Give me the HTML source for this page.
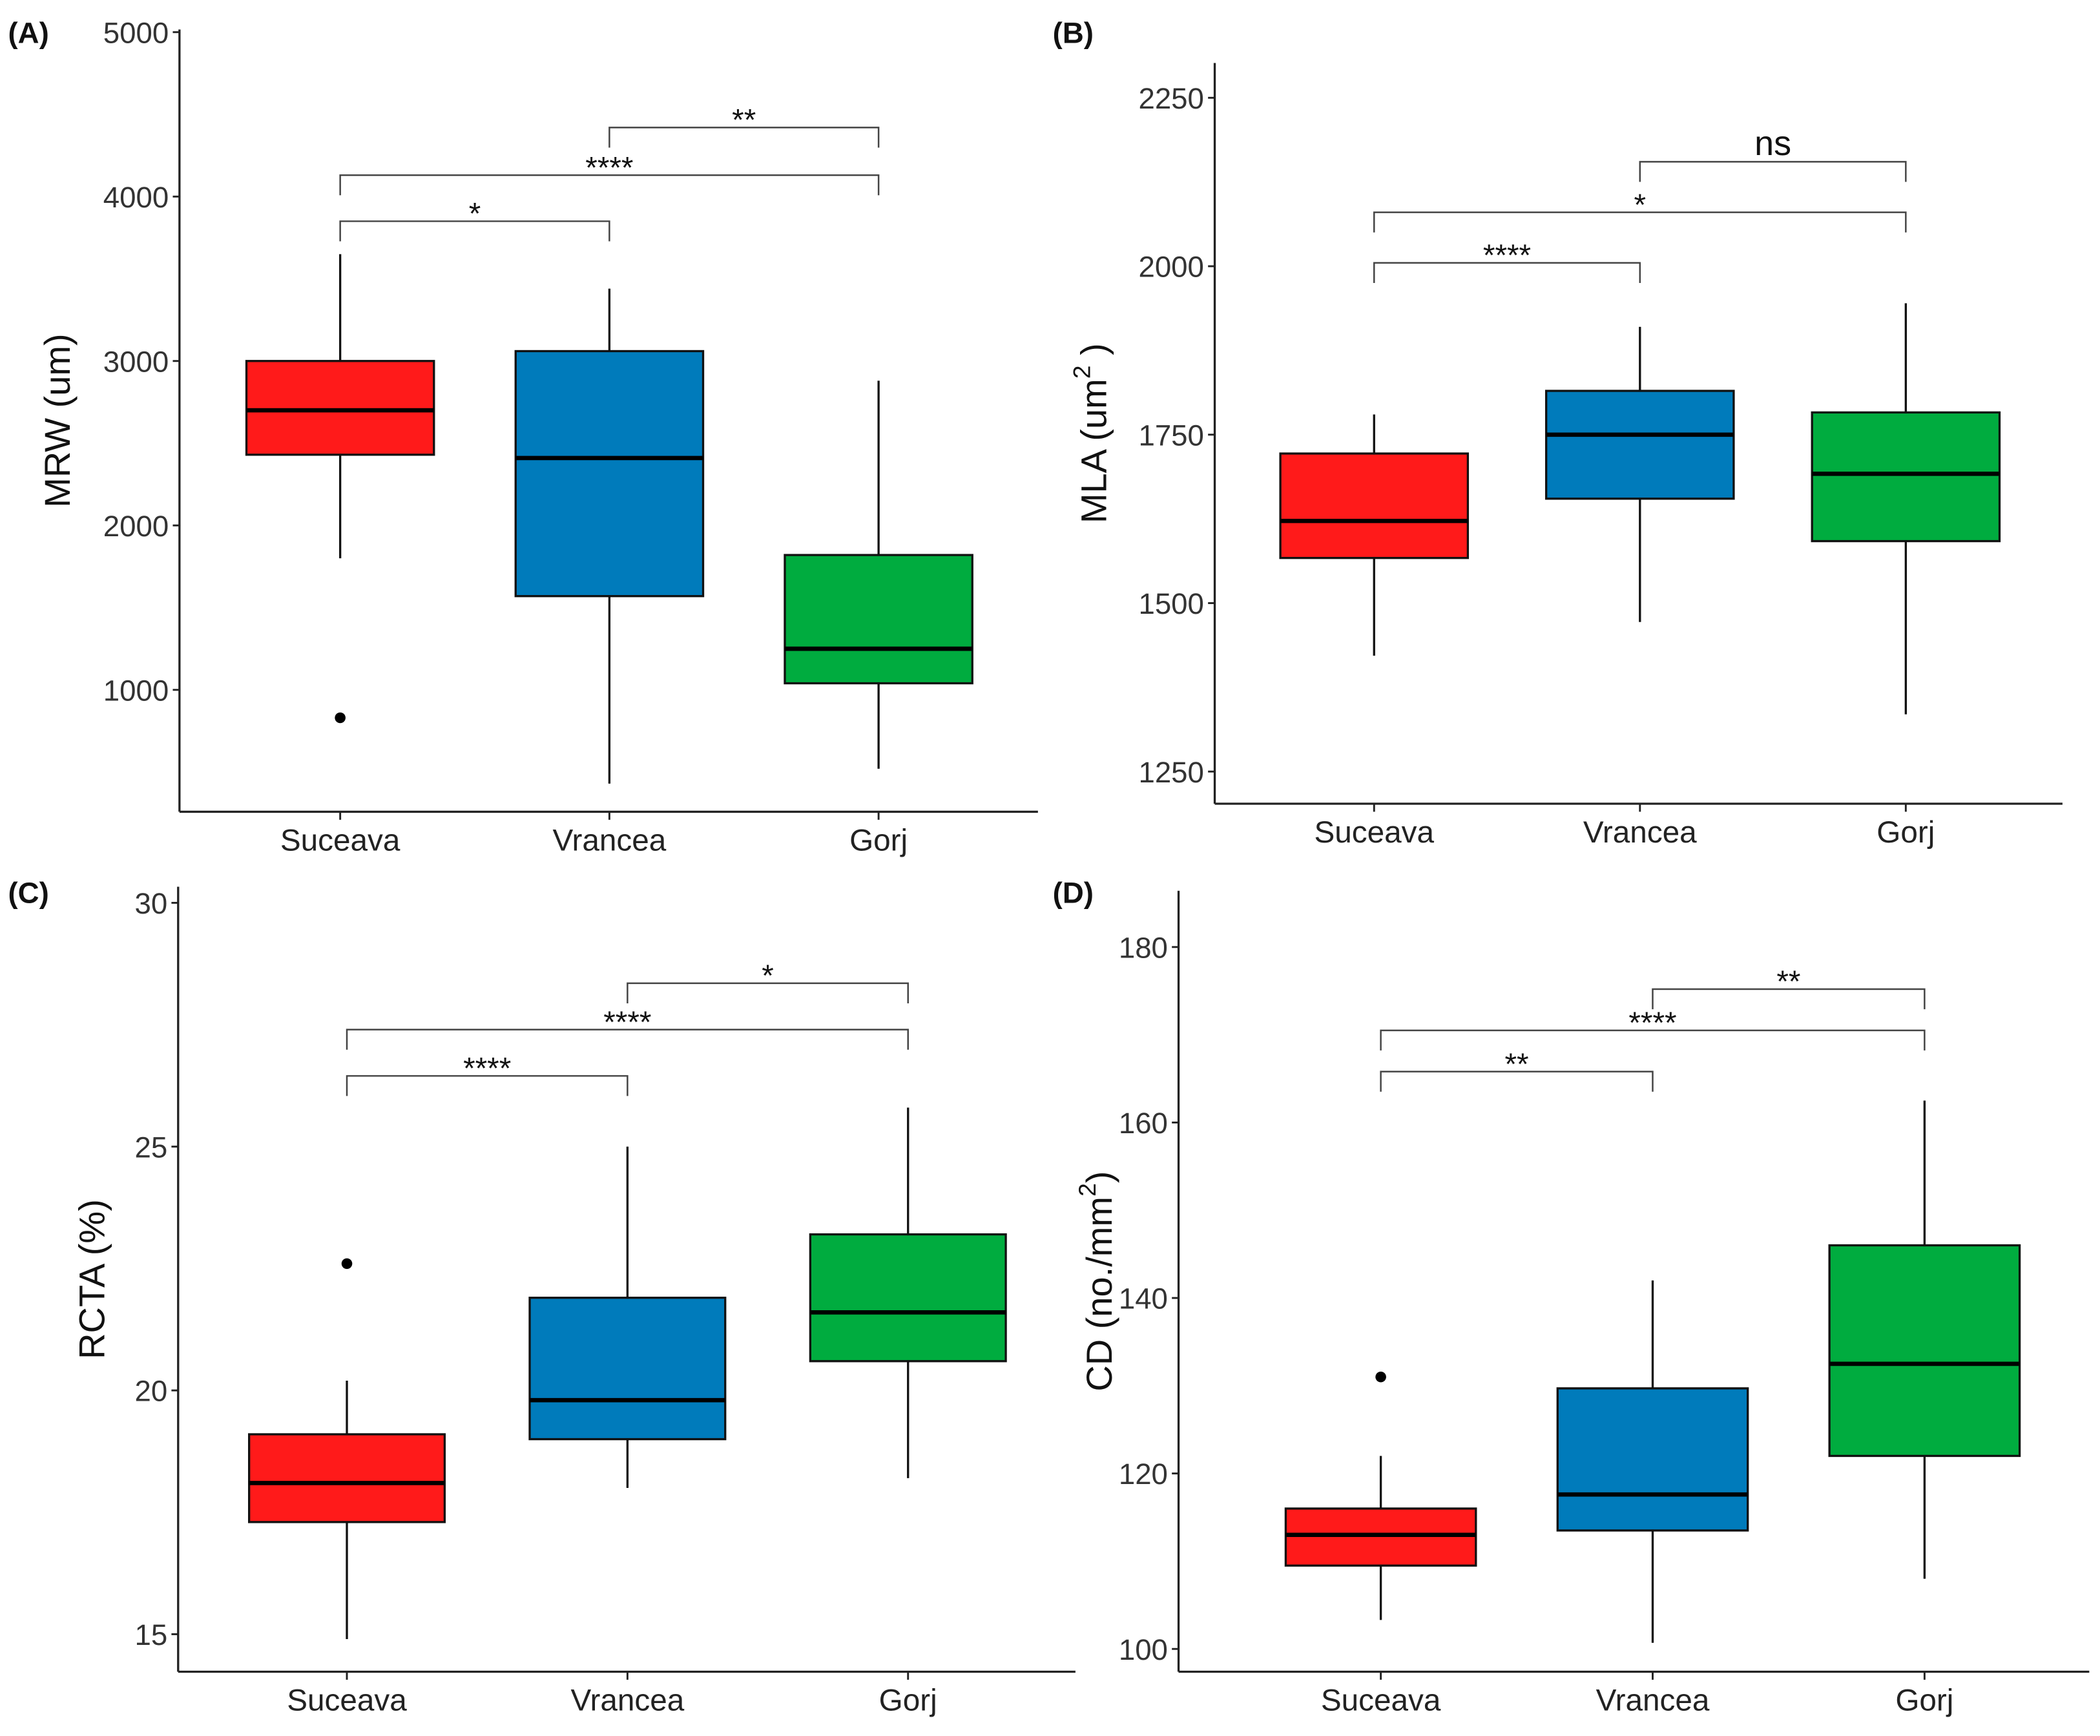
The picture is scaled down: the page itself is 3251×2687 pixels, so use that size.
<!DOCTYPE html>
<html><head><meta charset="utf-8">
<style>
html,body{margin:0;padding:0;background:#fff;}
svg{display:block;font-family:"Liberation Sans",sans-serif;}
</style></head>
<body>
<svg id="fig" width="3251" height="2687" viewBox="0 0 1568 1296" xmlns="http://www.w3.org/2000/svg">
<rect width="1568" height="1296" fill="#fff"/>
</svg>
<script>
const categories = ["Suceava","Vrancea","Gorj"];
const colors = ["#ff1a1a","#007bbb","#00ac3f"];

// Panel A: MRW
const aLow = [1800, 430, 520];
const aQ1 = [2430, 1570, 1040];
const aMed = [2700, 2410, 1250];
const aQ3 = [3000, 3060, 1820];
const aHigh = [3650, 3440, 2880];
const aOutliers = [[0, 830]];
const aTicks = [1000, 2000, 3000, 4000, 5000];
const aBrackets = [[0,1,3850,"*"],[0,2,4130,"****"],[1,2,4420,"**"]];

// Panel B: MLA
const bLow = [1422, 1472, 1335];
const bQ1 = [1567, 1655, 1592];
const bMed = [1622, 1750, 1692];
const bQ3 = [1722, 1815, 1783];
const bHigh = [1780, 1910, 1945];
const bOutliers = [];
const bTicks = [1250, 1500, 1750, 2000, 2250];
const bBrackets = [[0,1,2005,"****"],[0,2,2080,"*"],[1,2,2155,"ns"]];

// Panel C: RCTA
const cLow = [14.9, 18.0, 18.2];
const cQ1 = [17.3, 19.0, 20.6];
const cMed = [18.1, 19.8, 21.6];
const cQ3 = [19.1, 21.9, 23.2];
const cHigh = [20.2, 25.0, 25.8];
const cOutliers = [[0, 22.6]];
const cTicks = [15, 20, 25, 30];
const cBrackets = [[0,1,26.45,"****"],[0,2,27.4,"****"],[1,2,28.35,"*"]];

// Panel D: CD
const dLow = [103.3, 100.7, 108];
const dQ1 = [109.5, 113.5, 122];
const dMed = [113, 117.6, 132.5];
const dQ3 = [116, 129.7, 146];
const dHigh = [122, 142, 162.5];
const dOutliers = [[0, 131]];
const dTicks = [100, 120, 140, 160, 180];
const dBrackets = [[0,1,165.8,"**"],[0,2,170.5,"****"],[1,2,175.2,"**"]];

const NS = "http://www.w3.org/2000/svg";
const svg = document.getElementById("fig");
function mk(tag, attrs, parent, text){
  const e = document.createElementNS(NS, tag);
  for (const k in attrs) e.setAttribute(k, attrs[k]);
  if (text !== undefined) e.textContent = text;
  (parent || svg).appendChild(e);
  return e;
}

function panel(cfg){
  const g = mk("g", {});
  
  
  const y = v => cfg.py0 + (v - cfg.v0) * (cfg.py1 - cfg.py0) / (cfg.v1 - cfg.v0);
  const x = i => cfg.xs[0] + i * (cfg.xs[1] - cfg.xs[0]);
  const lab = mk("text", {x: cfg.labX, y: cfg.labY, "font-size": 22, "font-weight": "bold", fill: "#111"}, g, cfg.label);
  
  
  const ya = mk("line", {x1: cfg.ax, y1: cfg.top, x2: cfg.ax, y2: cfg.bottom, stroke: "#222", "stroke-width": 1.6}, g);
  
  
  const xa = mk("line", {x1: cfg.ax, y1: cfg.bottom, x2: cfg.right, y2: cfg.bottom, stroke: "#222", "stroke-width": 1.6}, g);
  
  
  cfg.ticks.forEach(t => {
    const yy = y(t);
    mk("line", {x1: cfg.ax - 5, y1: yy, x2: cfg.ax, y2: yy, stroke: "#222", "stroke-width": 1.4}, g);
    const tl = mk("text", {x: cfg.ax - 8, y: yy + 8, "font-size": 22, "text-anchor": "end", fill: "#333"}, g, String(t));
    
    
  });
  categories.forEach((c, i) => {
    const xx = x(i);
    mk("line", {x1: xx, y1: cfg.bottom, x2: xx, y2: cfg.bottom + 6, stroke: "#222", "stroke-width": 1.4}, g);
    const cl = mk("text", {x: xx, y: cfg.bottom + 29, "font-size": 23, "text-anchor": "middle", fill: "#222"}, g, c);
    
    
  });
  const tx = cfg.titleX, ty = (cfg.top + cfg.bottom) / 2;
  const tt = mk("text", {x: tx, y: ty, "font-size": 27, "text-anchor": "middle", fill: "#111", transform: `rotate(-90 ${tx} ${ty})`}, g);
  
  
  tt.innerHTML = cfg.title;
  categories.forEach((c, i) => {
    const xx = x(i), hw = cfg.hw;
    const bg = mk("g", {}, g);
    
    
    mk("line", {x1: xx, y1: y(cfg.high[i]), x2: xx, y2: y(cfg.q3[i]), stroke: "#111", "stroke-width": 1.6}, bg);
    mk("line", {x1: xx, y1: y(cfg.q1[i]), x2: xx, y2: y(cfg.low[i]), stroke: "#111", "stroke-width": 1.6}, bg);
    mk("rect", {x: xx - hw, y: y(cfg.q3[i]), width: 2 * hw, height: y(cfg.q1[i]) - y(cfg.q3[i]), fill: colors[i], stroke: "#111", "stroke-width": 1.6}, bg);
    mk("line", {x1: xx - hw, y1: y(cfg.med[i]), x2: xx + hw, y2: y(cfg.med[i]), stroke: "#000", "stroke-width": 3.2}, bg);
  });
  cfg.outliers.forEach(o => {
    const p = mk("circle", {cx: x(o[0]), cy: y(o[1]), r: 4, fill: "#000"}, g);
    
    
  });
  cfg.brackets.forEach(b => {
    const yy = y(b[2]), x1 = x(b[0]), x2 = x(b[1]);
    const bk = mk("path", {d: `M${x1},${yy + 15} V${yy} H${x2} V${yy + 15}`, fill: "none", stroke: "#444", "stroke-width": 1.2}, g);
    
    
    const isNs = b[3] === "ns";
    const st = mk("text", {x: (x1 + x2) / 2, y: isNs ? yy - 5 : yy + 2, "font-size": isNs ? 26 : 23, "text-anchor": "middle", fill: "#111"}, g, b[3]);
    
    
  });
}

panel({name: "panel-a-mrw", label: "(A)", labX: 6, labY: 32, ax: 134, top: 22, bottom: 606, right: 775,
  v0: 1000, py0: 515, v1: 5000, py1: 24, xs: [254, 455], hw: 70, titleX: 52, title: "MRW (um)",
  low: aLow, q1: aQ1, med: aMed, q3: aQ3, high: aHigh, outliers: aOutliers, ticks: aTicks, brackets: aBrackets});
panel({name: "panel-b-mla", label: "(B)", labX: 786, labY: 32, ax: 907, top: 47, bottom: 600, right: 1540,
  v0: 1250, py0: 576, v1: 2250, py1: 73, xs: [1026, 1224.5], hw: 70, titleX: 826, title: 'MLA (um<tspan dy="-12" font-size="18">2</tspan><tspan dy="12"> )</tspan>',
  low: bLow, q1: bQ1, med: bMed, q3: bQ3, high: bHigh, outliers: bOutliers, ticks: bTicks, brackets: bBrackets});
panel({name: "panel-c-rcta", label: "(C)", labX: 6, labY: 674, ax: 133, top: 662, bottom: 1248, right: 803,
  v0: 15, py0: 1220, v1: 30, py1: 674, xs: [259, 468.5], hw: 73, titleX: 78, title: "RCTA (%)",
  low: cLow, q1: cQ1, med: cMed, q3: cQ3, high: cHigh, outliers: cOutliers, ticks: cTicks, brackets: cBrackets});
panel({name: "panel-d-cd", label: "(D)", labX: 786, labY: 674, ax: 880, top: 665, bottom: 1248, right: 1560,
  v0: 100, py0: 1231, v1: 180, py1: 707, xs: [1031, 1234], hw: 71, titleX: 830, title: 'CD (no./mm<tspan dy="-12" font-size="18">2</tspan><tspan dy="12">)</tspan>',
  low: dLow, q1: dQ1, med: dMed, q3: dQ3, high: dHigh, outliers: dOutliers, ticks: dTicks, brackets: dBrackets});
</script>
</body></html>
